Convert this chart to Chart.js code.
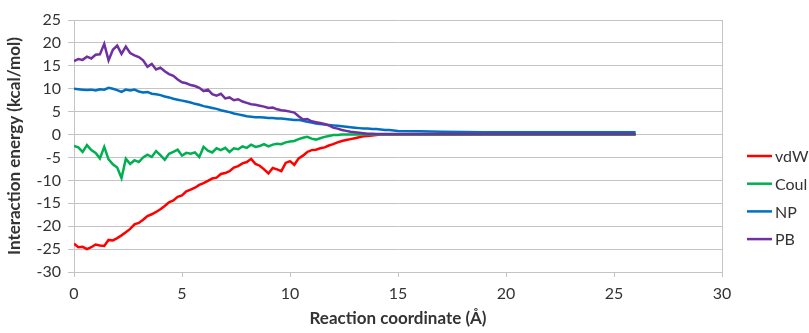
<!DOCTYPE html>
<html>
<head>
<meta charset="utf-8">
<script src="https://cdn.jsdelivr.net/npm/chart.js@4.4.1/dist/chart.umd.min.js"></script>
<style>
  html, body { margin: 0; padding: 0; background: #fff; }
  #wrap { width: 809px; height: 333px; position: relative; }
</style>
</head>
<body>
<div id="wrap"><canvas id="energyChart"></canvas></div>
<script>
// Reaction coordinate (Å)
const reactionCoord = [
    0, 0.2, 0.4, 0.6, 0.8, 1.0, 1.2, 1.4, 1.6, 1.8,
    2.0, 2.2, 2.4, 2.6, 2.8, 3.0, 3.2, 3.4, 3.6, 3.8,
    4.0, 4.2, 4.4, 4.6, 4.8, 5.0, 5.2, 5.4, 5.6, 5.8,
    6.0, 6.2, 6.4, 6.6, 6.8, 7.0, 7.2, 7.4, 7.6, 7.8,
    8.0, 8.2, 8.4, 8.6, 8.8, 9.0, 9.2, 9.4, 9.6, 9.8,
    10.0, 10.2, 10.4, 10.6, 10.8, 11.0, 11.2, 11.4, 11.6, 11.8,
    12.0, 12.2, 12.4, 12.6, 12.8, 13.0, 13.2, 13.4, 13.6, 13.8,
    14.0, 14.2, 14.4, 14.6, 14.8, 15.0,
    16, 17, 18, 19, 20, 21, 22, 23, 24, 25, 26
];

// Interaction energies (kcal/mol)
const vdwEnergy = [
    -23.8, -24.6, -24.5, -25.0, -24.6, -24.0, -24.2, -24.3, -23.0, -23.1,
    -22.6, -22.0, -21.3, -20.6, -19.6, -19.3, -18.6, -17.8, -17.4, -16.9,
    -16.3, -15.6, -14.8, -14.4, -13.6, -13.3, -12.4, -12.0, -11.6, -11.0,
    -10.6, -10.1, -9.6, -9.4, -8.6, -8.4, -8.0, -7.2, -6.9, -6.3,
    -6.0, -5.3, -6.4, -6.8, -7.6, -8.5, -7.3, -7.6, -8.0, -6.2,
    -5.8, -6.6, -5.2, -4.6, -3.8, -3.4, -3.3, -3.0, -2.8, -2.4,
    -2.1, -1.7, -1.4, -1.2, -1.0, -0.8, -0.6, -0.4, -0.3, -0.2,
    -0.1, 0, 0, 0, 0, 0,
    0, 0, 0, 0, 0, 0, 0, 0, 0, 0, 0
];
const coulEnergy = [
    -2.5, -2.8, -3.8, -2.3, -3.4, -4.0, -5.2, -2.7, -5.4, -6.5,
    -7.2, -9.5, -5.3, -6.4, -5.6, -6.0, -5.0, -4.4, -4.9, -3.6,
    -4.5, -5.5, -4.2, -3.8, -3.3, -4.6, -4.0, -4.2, -3.9, -4.9,
    -2.7, -3.5, -3.9, -3.0, -3.4, -2.9, -3.8, -3.0, -3.2, -2.6,
    -2.9, -2.2, -2.7, -2.5, -2.1, -2.6, -2.2, -2.0, -2.1, -1.7,
    -1.5, -1.4, -1.0, -0.7, -0.5, -0.9, -1.1, -0.8, -0.5, -0.3,
    -0.1, -0.1, 0, 0, 0, 0, 0, 0, 0, 0,
    0, 0, 0, 0, 0, 0,
    0, 0, 0, 0, 0, 0, 0, 0, 0, 0, 0
];
const npEnergy = [
    10.0, 9.9, 9.8, 9.7, 9.8, 9.6, 9.9, 9.8, 10.2, 10.0,
    9.7, 9.3, 9.8, 9.6, 9.8, 9.4, 9.2, 9.3, 8.9, 8.8,
    8.6, 8.3, 8.1, 7.8, 7.6, 7.4, 7.2, 7.0, 6.7, 6.5,
    6.2, 6.0, 5.8, 5.6, 5.3, 5.1, 4.9, 4.6, 4.4, 4.2,
    4.0, 3.9, 3.8, 3.8, 3.7, 3.6, 3.6, 3.5, 3.5, 3.4,
    3.3, 3.2, 3.2, 3.0, 2.8, 2.6, 2.4, 2.3, 2.2, 2.1,
    2.0, 1.9, 1.8, 1.7, 1.6, 1.5, 1.4, 1.3, 1.3, 1.2,
    1.2, 1.1, 1.0, 1.0, 0.9, 0.8,
    0.7, 0.6, 0.55, 0.5, 0.5, 0.5, 0.5, 0.5, 0.5, 0.5, 0.5
];
const pbEnergy = [
    16.0, 16.5, 16.3, 17.0, 16.6, 17.4, 17.5, 19.8, 16.2, 18.5,
    19.4, 17.6, 19.2, 17.8, 17.3, 16.9, 16.2, 14.8, 15.4, 14.2,
    14.6, 13.8, 13.2, 12.8, 12.0, 11.4, 11.2, 10.8, 10.6, 10.2,
    9.5, 9.8, 8.8, 8.5, 8.9, 7.9, 8.1, 7.5, 7.7, 7.2,
    6.9, 6.6, 6.5, 6.3, 6.1, 5.8, 5.9, 5.5, 5.3, 5.2,
    5.0, 4.8, 4.0, 3.3, 3.4, 2.9, 2.7, 2.5, 2.3, 2.0,
    1.5, 1.3, 1.0, 0.8, 0.6, 0.5, 0.4, 0.3, 0.2, 0.15,
    0.1, 0.1, 0.1, 0.1, 0.1, 0.1,
    0.1, 0.1, 0.1, 0.1, 0.1, 0.1, 0.1, 0.1, 0.1, 0.1, 0.1
];

const seriesLabels = ['vdW', 'Coul', 'NP', 'PB'];
const seriesColors = ['#ff0000', '#00b050', '#0070c0', '#7030a0'];

const FONT = "Lato, 'Open Sans', 'Liberation Sans', sans-serif";
const TEXT = '#333333';
const GRID = '#c4c4c4';

function toPoints(values) {
    return values.map((v, i) => ({ x: reactionCoord[i], y: v }));
}

// right border of the plot area and the legend at the right
const frameAndLegend = {
    id: 'frameAndLegend',
    afterDraw(chart) {
        const { ctx, chartArea } = chart;
        ctx.save();
        ctx.strokeStyle = GRID;
        ctx.lineWidth = 1;
        ctx.beginPath();
        ctx.moveTo(Math.round(chartArea.right) + 0.5, chartArea.top);
        ctx.lineTo(Math.round(chartArea.right) + 0.5, chartArea.bottom);
        ctx.stroke();

        ctx.font = '16px ' + FONT;
        ctx.textBaseline = 'middle';
        chart.data.datasets.forEach((ds, i) => {
            const y = 156 + i * 27.7;
            ctx.strokeStyle = ds.borderColor;
            ctx.lineWidth = 2.5;
            ctx.beginPath();
            ctx.moveTo(747, y);
            ctx.lineTo(772, y);
            ctx.stroke();
            ctx.fillStyle = TEXT;
            ctx.fillText(ds.label, 775, y + 1);
        });
        ctx.restore();
    }
};

const ctx = document.getElementById('energyChart').getContext('2d');
new Chart(ctx, {
    type: 'line',
    data: {
        datasets: [
            { label: seriesLabels[0], data: toPoints(vdwEnergy), borderColor: seriesColors[0], order: 4 },
            { label: seriesLabels[1], data: toPoints(coulEnergy), borderColor: seriesColors[1], order: 3 },
            { label: seriesLabels[2], data: toPoints(npEnergy), borderColor: seriesColors[2], order: 2 },
            { label: seriesLabels[3], data: toPoints(pbEnergy), borderColor: seriesColors[3], order: 1 }
        ]
    },
    options: {
        responsive: true,
        maintainAspectRatio: false,
        animation: false,
        layout: { padding: { top: 20, right: 87, left: 0, bottom: 0 } },
        elements: {
            point: { radius: 0 },
            line: { borderWidth: 2.5, tension: 0, fill: false }
        },
        plugins: {
            legend: { display: false },
            tooltip: { enabled: false }
        },
        scales: {
            x: {
                type: 'linear',
                min: 0,
                max: 30,
                afterFit(scale) { scale.height = 61; },
                ticks: {
                    stepSize: 5,
                    color: TEXT,
                    padding: 7,
                    font: { size: 16, family: FONT }
                },
                grid: {
                    drawOnChartArea: false,
                    color: GRID,
                    tickLength: 5
                },
                border: { color: GRID },
                title: {
                    display: true,
                    text: 'Reaction coordinate (Å)',
                    color: TEXT,
                    padding: { top: 3 },
                    font: { size: 17, weight: 'bold', family: FONT }
                }
            },
            y: {
                min: -30,
                max: 25,
                afterFit(scale) { scale.width = 74; },
                ticks: {
                    stepSize: 5,
                    color: TEXT,
                    padding: 7,
                    font: { size: 16, family: FONT }
                },
                grid: {
                    color: GRID,
                    tickLength: 6
                },
                border: { color: GRID },
                title: {
                    display: true,
                    text: 'Interaction energy (kcal/mol)',
                    color: TEXT,
                    padding: { bottom: 2 },
                    font: { size: 17, weight: 'bold', family: FONT }
                }
            }
        }
    },
    plugins: [frameAndLegend]
});
</script>
</body>
</html>
